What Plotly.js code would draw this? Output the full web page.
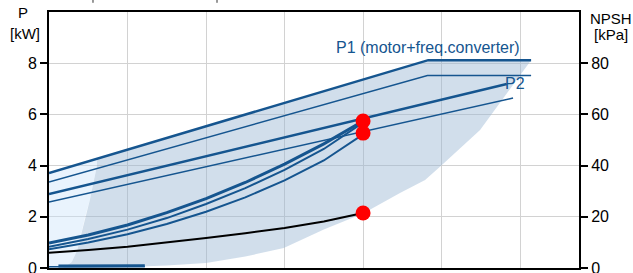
<!DOCTYPE html>
<html>
<head>
<meta charset="utf-8">
<script src="https://cdn.plot.ly/plotly-3.0.1.min.js"></script>
<style>html,body{margin:0;padding:0;background:#fff;}#chart{width:633px;height:273px;}</style>
</head>
<body>
<div id="chart"></div>
<script>
// ---- data ----
// Upper P1 curves (motor+freq.converter)
const p1TopX = [0, 4.83, 6.14];
const p1TopY = [3.71, 8.12, 8.12];
const p1SecX = [0, 4.82, 6.14];
const p1SecY = [3.36, 7.52, 7.52];
// P2 curves
const p2TopX = [0, 5.83];
const p2TopY = [2.89, 7.19];
const p2SecX = [0, 5.91];
const p2SecY = [2.58, 6.64];
// Lower rising curves
const curveX = [0, 0.5, 1, 1.5, 2, 2.5, 3, 3.5, 4];
const curveA = [0.98, 1.29, 1.68, 2.16, 2.71, 3.34, 4.06, 4.85, 5.74];
const curveB = [0.83, 1.13, 1.50, 1.95, 2.50, 3.12, 3.83, 4.65, 5.68];
const curveC = [0.73, 1.00, 1.32, 1.72, 2.20, 2.76, 3.42, 4.20, 5.22];
const npshY  = [0.60, 0.70, 0.83, 0.99, 1.17, 1.36, 1.56, 1.82, 2.15];
// Short line along the bottom
const baseThickX = [0.12, 1.22];
const baseThickY = [0.08, 0.09];
const baseThinX = [0, 1.22];
const baseThinY = [0.05, 0.06];
// Duty points
const dutyX = [4, 4, 4];
const dutyY = [5.74, 5.27, 2.15];
// Shaded areas
const lightX = [0, 0, 0.61, 0.61, 0.52, 0.46, 0.36, 0.29, 0.20, 0.17];
const lightY = [0, 3.71, 4.27, 3.98, 2.66, 1.99, 0.70, 0.23, 0.04, 0];
const darkX = [0.61, 4.83, 6.14, 5.49, 4.99, 4.79, 4.47, 4.0, 3.5, 2.99, 2.5, 2.0, 1.5, 1.0, 0.5, 0.17, 0.20, 0.29, 0.36, 0.46, 0.52, 0.61];
const darkY = [4.27, 8.12, 8.12, 5.39, 3.98, 3.44, 2.93, 2.13, 1.50, 0.78, 0.45, 0.20, 0.10, 0.04, 0.01, 0, 0.04, 0.23, 0.70, 1.99, 2.66, 3.98];
// Axis ticks
const leftTicks = [0, 2, 4, 6, 8];
const rightTicks = [0, 20, 40, 60, 80];

const BLUE = '#15558f';
const FONT = 'Liberation Sans, Arial, sans-serif';

function line(x, y, w, color) {
  return {x: x, y: y, type: 'scatter', mode: 'lines', line: {color: color || BLUE, width: w}, hoverinfo: 'skip', showlegend: false};
}

const traces = [
  {x: darkX, y: darkY, type: 'scatter', mode: 'lines', fill: 'toself', fillcolor: 'rgba(150,180,210,0.44)', line: {width: 0}, hoverinfo: 'skip', showlegend: false},
  {x: lightX, y: lightY, type: 'scatter', mode: 'lines', fill: 'toself', fillcolor: 'rgba(200,225,250,0.40)', line: {width: 0}, hoverinfo: 'skip', showlegend: false},
  line(baseThinX, baseThinY, 1.5),
  line(baseThickX, baseThickY, 3),
  line(p1TopX, p1TopY, 2.5),
  line(p1SecX, p1SecY, 1.5),
  line(p2TopX, p2TopY, 2.5),
  line(p2SecX, p2SecY, 1.5),
  line(curveX, curveC, 2),
  line(curveX, curveB, 2),
  line(curveX, curveA, 3),
  line(curveX, npshY, 2, '#000000'),
  {x: dutyX, y: dutyY, type: 'scatter', mode: 'markers', marker: {color: '#ff0000', size: 15}, hoverinfo: 'skip', showlegend: false},
  {x: [0], y: [0], yaxis: 'y2', type: 'scatter', mode: 'markers', marker: {opacity: 0}, hoverinfo: 'skip', showlegend: false}
];

const layout = {
  width: 633, height: 273,
  margin: {l: 49, r: 54, t: 12, b: 5, pad: 0},
  paper_bgcolor: '#ffffff', plot_bgcolor: '#ffffff',
  font: {family: FONT, size: 16, color: '#000'},
  showlegend: false,
  xaxis: {range: [0, 6.75], dtick: 1, tick0: 0, showgrid: true, gridcolor: '#d2d2d2', gridwidth: 1,
    showline: true, linecolor: '#000', linewidth: 2, mirror: true, showticklabels: false, ticks: '', zeroline: false},
  yaxis: {range: [0, 10], tickvals: leftTicks, ticktext: leftTicks.map(String), showgrid: true, gridcolor: '#d2d2d2', gridwidth: 1,
    showline: true, linecolor: '#000', linewidth: 2, ticks: 'outside', ticklen: 7, tickwidth: 2, tickcolor: '#000',
    ticklabeloverflow: 'allow',
    tickfont: {family: FONT, size: 16, color: '#000'}, zeroline: false},
  yaxis2: {range: [0, 100], overlaying: 'y', side: 'right', tickvals: rightTicks, ticktext: rightTicks.map(String), showgrid: false,
    showline: true, linecolor: '#000', linewidth: 2, ticks: 'outside', ticklen: 7, tickwidth: 2, tickcolor: '#000',
    ticklabeloverflow: 'allow',
    tickfont: {family: FONT, size: 16, color: '#000'}, zeroline: false},
  annotations: [
    {text: 'P', xref: 'paper', yref: 'paper', x: -0.05, y: 1.0, xanchor: 'center', yanchor: 'middle', showarrow: false, font: {family: FONT, size: 15, color: '#000'}},
    {text: '[kW]', xref: 'paper', yref: 'paper', x: -0.045, y: 0.916, xanchor: 'center', yanchor: 'middle', showarrow: false, font: {family: FONT, size: 15, color: '#000'}},
    {text: 'NPSH', xref: 'paper', yref: 'paper', x: 1.06, y: 0.973, xanchor: 'center', yanchor: 'middle', showarrow: false, font: {family: FONT, size: 15, color: '#000'}},
    {text: '[kPa]', xref: 'paper', yref: 'paper', x: 1.06, y: 0.914, xanchor: 'center', yanchor: 'middle', showarrow: false, font: {family: FONT, size: 15, color: '#000'}},
    {text: 'P1 (motor+freq.converter)', xref: 'x', yref: 'y', x: 4.83, y: 8.63, xanchor: 'center', yanchor: 'middle', showarrow: false, font: {family: FONT, size: 16, color: BLUE}},
    {text: 'P2', xref: 'x', yref: 'y', x: 5.94, y: 7.22, xanchor: 'center', yanchor: 'middle', showarrow: false, font: {family: FONT, size: 16, color: BLUE}}
  ],
  shapes: [
    {type: 'line', xref: 'paper', yref: 'paper', x0: 0.083, x1: 0.083, y0: 1.036, y1: 1.05, line: {color: '#333', width: 1}},
    {type: 'line', xref: 'paper', yref: 'paper', x0: 0.317, x1: 0.317, y0: 1.036, y1: 1.05, line: {color: '#333', width: 1}}
  ]
};

Plotly.newPlot('chart', traces, layout, {staticPlot: true, displayModeBar: false});
</script>
</body>
</html>
